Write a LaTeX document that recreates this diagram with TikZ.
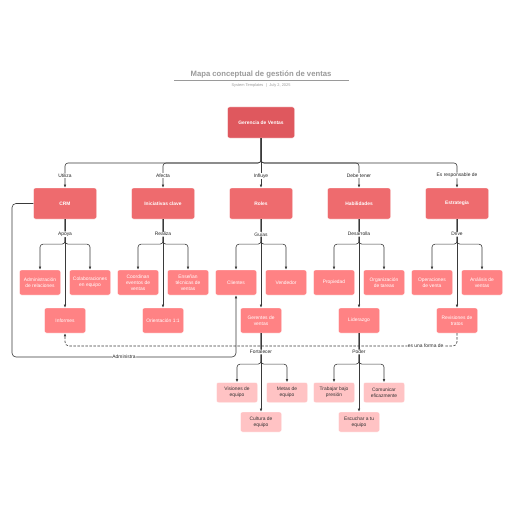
\documentclass[tikz,border=0pt]{standalone}
\usepackage{fontspec}
\setmainfont{Liberation Sans}
\usetikzlibrary{arrows.meta}
\definecolor{rootc}{HTML}{DF585E}
\definecolor{lonec}{HTML}{EE6B6E}
\definecolor{ltwoc}{HTML}{FF8284}
\definecolor{lthreec}{HTML}{FFC3C4}
\definecolor{linec}{HTML}{3A3A3A}
\definecolor{titlec}{HTML}{9A9A9A}
\tikzset{
  base/.style={rounded corners=2pt, align=center, inner sep=1pt, font=\fontsize{4.9}{6.2}\selectfont},
  rootbox/.style={base, fill=rootc, draw=white, line width=0.3pt, text=white, minimum width=67pt, minimum height=31pt, font=\fontsize{4.9}{5.8}\selectfont\bfseries},
  onebox/.style={base, fill=lonec, draw=white, line width=0.3pt, text=white, minimum width=63pt, minimum height=31pt, font=\fontsize{4.9}{5.8}\selectfont\bfseries},
  twobox/.style={base, fill=ltwoc, draw=white, line width=0.3pt, text=white, minimum width=41pt, minimum height=25pt},
  threebox/.style={base, fill=lthreec, draw=white, line width=0.3pt, text=black!80, minimum width=41pt, minimum height=20pt},
  conn/.style={draw=linec, line width=0.6pt, rounded corners=3pt, -{Latex[length=3.2pt,width=2.6pt]}},
  lbl/.style={fill=white, inner sep=0.6pt, text=black!85, font=\fontsize{4.9}{5.8}\selectfont},
}
\begin{document}
\begin{tikzpicture}[x=1pt,y=-1pt]
\useasboundingbox[fill=white] (0,0) rectangle (516,516);
% title
\node[text=titlec, font=\fontsize{7.7}{9}\selectfont\bfseries] (title) at (261,74) {Mapa conceptual de gestión de ventas};
\draw[titlec, line width=0.5pt] (174,80) -- (349,80);
\node[text=titlec, font=\fontsize{3.9}{4.5}\selectfont] (sub) at (261,85.5) {System Templates \enspace|\enspace July 2, 2025};

% root
\node[rootbox] (root) at (261,122.5) {Gerencia de Ventas};

% level 1
\node[onebox] (crm) at (65,203.5) {CRM};
\node[onebox] (ini) at (163,203.5) {Iniciativas clave};
\node[onebox] (roles) at (261,203.5) {Roles};
\node[onebox] (hab) at (359,203.5) {Habilidades};
\node[onebox] (est) at (457,203.5) {Estrategia};

% level 2
\node[twobox] (adm) at (40,282.5) {Administración\\de relaciones};
\node[twobox] (col) at (90,282.5) {Colaboraciones\\en equipo};
\node[twobox] (inf) at (65,320.5) {Informes};
\node[twobox] (coo) at (138,282.5) {Coordinan\\eventos de\\ventas};
\node[twobox] (ens) at (188,282.5) {Enseñan\\técnicas de\\ventas};
\node[twobox] (ori) at (163,320.5) {Orientación 1:1};
\node[twobox] (cli) at (236,282.5) {Clientes};
\node[twobox] (ven) at (286,282.5) {Vendedor};
\node[twobox] (ger) at (261,320.5) {Gerentes de\\ventas};
\node[twobox] (pro) at (334,282.5) {Propiedad};
\node[twobox] (org) at (384,282.5) {Organización\\de tareas};
\node[twobox] (lid) at (359,320.5) {Liderazgo};
\node[twobox] (ope) at (432,282.5) {Operaciones\\de venta};
\node[twobox] (ana) at (482,282.5) {Análisis de\\ventas};
\node[twobox] (rev) at (457,320.5) {Revisiones de\\tratos};

% level 3
\node[threebox] (vis) at (237,392.5) {Visiones de\\equipo};
\node[threebox] (met) at (287,392.5) {Metas de\\equipo};
\node[threebox] (cul) at (261,422) {Cultura de\\equipo};
\node[threebox] (tra) at (334,392.5) {Trabajar bajo\\presión};
\node[threebox] (com) at (384,392.5) {Comunicar\\eficazmente};
\node[threebox] (esc) at (359,422) {Escuchar a tu\\equipo};

% root bus
\coordinate (b1) at (65,163);
\coordinate (b2) at (163,163);
\coordinate (b4) at (359,163);
\coordinate (b5) at (457,163);
\draw[conn] (root.south) |- (b1) -- node[lbl]{Utiliza} (crm.north);
\draw[conn] (root.south) |- (b2) -- node[lbl]{Afecta} (ini.north);
\draw[conn] (root.south) -- node[lbl, pos=0.76]{Influye} (roles.north);
\draw[conn] (root.south) |- (b4) -- node[lbl]{Debe tener} (hab.north);
\draw[conn] (root.south) |- (b5) -- node[lbl]{Es responsable de} (est.north);

% level 2 forks
\foreach \p/\l/\r/\c/\t in {crm/adm/col/inf/Apoya, ini/coo/ens/ori/Realiza, roles/cli/ven/ger/Guías, hab/pro/org/lid/Desarrolla, est/ope/ana/rev/Drive}{
  \draw[conn] (\p.south) -- ++(0,25) -| (\l.north);
  \draw[conn] (\p.south) -- ++(0,25) -| (\r.north);
  \draw[conn] (\p.south) -- node[lbl, pos=0.17]{\t} (\c.north);
}

% level 3 forks
\foreach \p/\l/\r/\c/\t in {ger/vis/met/cul/Fortalecer, lid/tra/com/esc/Poder}{
  \draw[conn] (\p.south) -- ++(0,31) -| (\l.north);
  \draw[conn] (\p.south) -- ++(0,31) -| (\r.north);
  \draw[conn] (\p.south) -- node[lbl, pos=0.24]{\t} (\c.north);
}

% cross links
\coordinate (a1) at (12,203.5);
\coordinate (a2) at (12,357);
\coordinate (a3) at (236,357);
\draw[conn, rounded corners=4pt] (crm.west) -- (a1) -- (a2) -- node[lbl]{Administra} (a3) -- (cli.south);
\coordinate (d1) at (457,346);
\coordinate (d2) at (65,346);
\draw[conn, dashed, dash pattern=on 2.5pt off 1.5pt, rounded corners=4pt] (rev.south) -- (d1) -- node[lbl, pos=0.08]{es una forma de} (d2) -- (inf.south);
\end{tikzpicture}
\end{document}
